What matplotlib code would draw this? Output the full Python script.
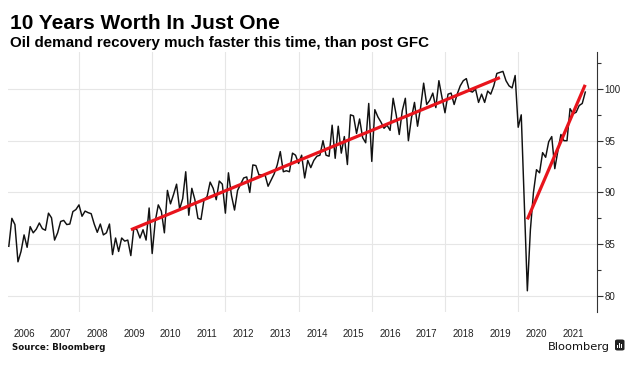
import numpy as np
import matplotlib
matplotlib.use("Agg")
import matplotlib.pyplot as plt
from matplotlib.ticker import FixedLocator
from matplotlib.patches import FancyBboxPatch

# ---------------- data (monthly oil demand, mb/d) ----------------
start_year = 2006
demand_2006 = [84.8, 87.5, 86.9, 83.3, 84.3, 85.9, 84.7, 86.7, 86.1, 86.45, 87.05, 86.5]
demand_2007 = [86.35, 88.0, 87.55, 85.4, 86.1, 87.2, 87.3, 86.9, 86.95, 88.15, 88.35, 88.8]
demand_2008 = [87.7, 88.2, 88.05, 87.95, 86.95, 86.15, 86.95, 85.9, 86.1, 86.95, 84.0, 85.6]
demand_2009 = [84.3, 85.6, 85.3, 85.4, 83.9, 86.6, 86.4, 85.6, 86.4, 85.4, 88.5, 84.1]
demand_2010 = [87.2, 88.8, 88.2, 86.1, 90.2, 88.9, 89.8, 90.8, 88.4, 89.4, 92.0, 87.8]
demand_2011 = [90.4, 89.3, 87.5, 87.4, 89.3, 89.6, 91.0, 90.4, 89.3, 91.1, 90.8, 88.0]
demand_2012 = [91.9, 89.7, 88.3, 90.2, 90.8, 91.4, 91.5, 90.0, 92.66, 92.6, 91.7, 91.7]
demand_2013 = [91.7, 90.6, 91.2, 91.8, 92.66, 93.95, 92.0, 92.1, 92.0, 93.8, 93.6, 92.8]
demand_2014 = [93.6, 91.4, 93.1, 92.4, 93.1, 93.5, 93.6, 95.0, 93.6, 93.5, 96.5, 93.3]
demand_2015 = [96.4, 93.8, 95.4, 92.7, 97.5, 97.4, 95.7, 97.1, 95.3, 94.8, 98.6, 93.0]
demand_2016 = [98.0, 97.3, 96.8, 96.2, 96.5, 96.0, 99.1, 97.5, 95.6, 97.9, 99.1, 95.0]
demand_2017 = [97.2, 98.7, 96.4, 98.2, 100.56, 98.5, 98.9, 99.6, 98.2, 100.8, 99.2, 97.7]
demand_2018 = [99.5, 99.6, 98.5, 99.5, 100.3, 100.8, 101.0, 99.8, 99.7, 100.0, 98.7, 99.5]
demand_2019 = [98.7, 99.8, 99.5, 100.3, 101.5, 101.6, 101.7, 100.8, 100.3, 100.1, 101.3, 96.3]
demand_2020 = [97.5, 89.0, 80.5, 86.4, 90.0, 92.2, 91.9, 93.85, 93.4, 94.9, 95.4, 92.3]
demand_2021 = [94.0, 95.6, 95.0, 95.0, 98.1, 97.6, 97.75, 98.4, 98.6, 99.7]

demand = (demand_2006 + demand_2007 + demand_2008 + demand_2009 + demand_2010 +
          demand_2011 + demand_2012 + demand_2013 + demand_2014 + demand_2015 +
          demand_2016 + demand_2017 + demand_2018 + demand_2019 + demand_2020 +
          demand_2021)
t = start_year + (np.arange(len(demand)) + 1) / 12.0   # month-end positions

# trend lines (post-GFC and post-Covid recoveries)
trend_gfc_x = [2009.42, 2019.50]
trend_gfc_y = [86.4, 101.1]
trend_covid_x = [2020.25, 2021.83]
trend_covid_y = [87.4, 100.4]

year_labels = [str(y) for y in range(2006, 2022)]
grid_years = [2008, 2010, 2012, 2014, 2016, 2018, 2020]
y_ticks = [80, 85, 90, 95, 100]
y_minor = [82.5, 87.5, 92.5, 97.5, 102.5]

title = "10 Years Worth In Just One"
subtitle = "Oil demand recovery much faster this time, than post GFC"
source = "Source: Bloomberg"

# ---------------- figure ----------------
W, H = 633, 374
fig = plt.figure(figsize=(W / 100, H / 100), dpi=100)
fig.patch.set_facecolor("white")

ax_l, ax_r, ax_t, ax_b = 7.6, 597.0, 51.7, 311.7
ax = fig.add_axes([ax_l / W, 1 - ax_b / H, (ax_r - ax_l) / W, (ax_b - ax_t) / H])

ax.plot(t, demand, color="#111111", lw=1.05, zorder=3)
ax.plot(trend_gfc_x, trend_gfc_y, color="#e8141c", lw=2.3, zorder=4, solid_capstyle="butt")
ax.plot(trend_covid_x, trend_covid_y, color="#e8141c", lw=2.3, zorder=4, solid_capstyle="butt")

ax.set_xlim(2006.05, 2022.153)
ax.set_ylim(78.48, 103.6)

for s in ["top", "left", "bottom"]:
    ax.spines[s].set_visible(False)
ax.spines["right"].set_color("#333333")
ax.spines["right"].set_linewidth(0.8)

ax.yaxis.tick_right()
ax.yaxis.set_major_locator(FixedLocator(y_ticks))
ax.yaxis.set_minor_locator(FixedLocator(y_minor))
ax.set_yticklabels([str(v) for v in y_ticks])
ax.tick_params(axis="y", which="major", length=4, width=0.8, pad=1.5,
               labelsize=7, colors="#333333", labelcolor="#222222")
ax.tick_params(axis="y", which="minor", length=3, width=0.8, colors="#333333")

ax.xaxis.set_major_locator(FixedLocator(grid_years))
ax.set_xticks([y + 0.5 for y in range(2006, 2022)], minor=True)
ax.set_xticklabels([], minor=False)
ax.set_xticklabels(year_labels, minor=True)
ax.tick_params(axis="x", which="both", length=0, pad=12.3, labelsize=7, labelcolor="#222222")

for lab in ax.get_xticklabels(minor=True) + ax.get_yticklabels():
    lab.set_family(["Liberation Sans", "DejaVu Sans"])

ax.grid(which="major", axis="both", color="#e6e6e6", lw=0.8, zorder=0)
ax.set_axisbelow(True)

# ---------------- texts ----------------
renderer = fig.canvas.get_renderer()

def fit(txt, target_w):
    bb = txt.get_window_extent(renderer=renderer)
    txt.set_fontsize(txt.get_fontsize() * target_w / bb.width)

head_fonts = ["Liberation Sans", "DejaVu Sans"]
t1 = fig.text(10 / W, 1 - 29.0 / H, title, fontsize=15, fontweight="bold",
              family=head_fonts, va="baseline", color="#000000")
fit(t1, 270)
t2 = fig.text(10 / W, 1 - 46.5 / H, subtitle, fontsize=10, fontweight="bold",
              family=head_fonts, va="baseline", color="#000000")
fit(t2, 419)
t3 = fig.text(12 / W, 1 - 349.5 / H, source, fontsize=7, fontweight="bold",
              family="DejaVu Sans", va="baseline", color="#111111")
fit(t3, 94)
t4 = fig.text(548 / W, 1 - 349.5 / H, "Bloomberg", fontsize=9,
              family="DejaVu Sans", va="baseline", color="#111111")
fit(t4, 62)

icon = FancyBboxPatch((615 / W, 1 - 350.5 / H), 9.5 / W, 11 / H,
                      boxstyle="round,pad=0,rounding_size=0.004",
                      transform=fig.transFigure, facecolor="#222222",
                      edgecolor="none")
fig.patches.append(icon)
for k, hgt in enumerate([3.0, 5.0, 4.0]):
    fig.patches.append(plt.Rectangle(((617 + k * 2.2) / W, 1 - 347.5 / H),
                                     1.0 / W, hgt / H, transform=fig.transFigure,
                                     facecolor="white", edgecolor="none"))

fig.savefig("out.png", dpi=100)
